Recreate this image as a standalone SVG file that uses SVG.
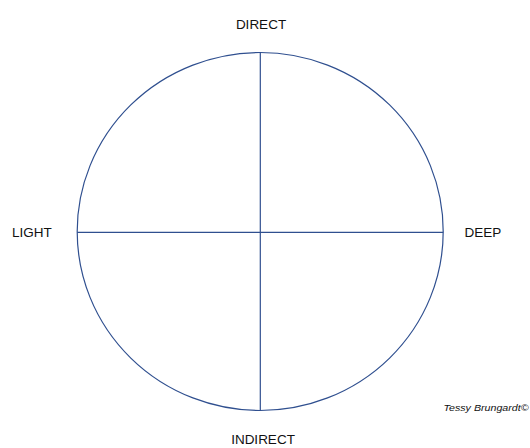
<svg xmlns="http://www.w3.org/2000/svg" width="530" height="448" viewBox="0 0 530 448">
<style>
.l{font-family:"Liberation Sans",Arial,sans-serif;font-size:13.5px;fill:#111}
.s{stroke:#2f4f8f;stroke-width:1.2;fill:none}
</style>
<rect width="530" height="448" fill="#fff"/>
<g id="connectors">
<ellipse class="s" cx="260.2" cy="231.5" rx="183" ry="179"/>
<line class="s" x1="260.3" y1="52.5" x2="260.3" y2="410.5"/>
<line class="s" x1="77.2" y1="232.3" x2="443.2" y2="232.3"/>
</g>
<g id="direct"><text class="l" x="261" y="29" text-anchor="middle">DIRECT</text></g>
<g id="light"><text class="l" x="32" y="237.3" text-anchor="middle">LIGHT</text></g>
<g id="deep"><text class="l" x="483" y="237.3" text-anchor="middle">DEEP</text></g>
<g id="indirect"><text class="l" x="263" y="444.3" text-anchor="middle">INDIRECT</text></g>
<g id="credit"><text x="443.5" y="410.8" textLength="85" lengthAdjust="spacingAndGlyphs" style="font-family:'Liberation Sans',Arial,sans-serif;font-size:9.5px;font-style:italic;fill:#111">Tessy Brungardt©</text></g>
</svg>
